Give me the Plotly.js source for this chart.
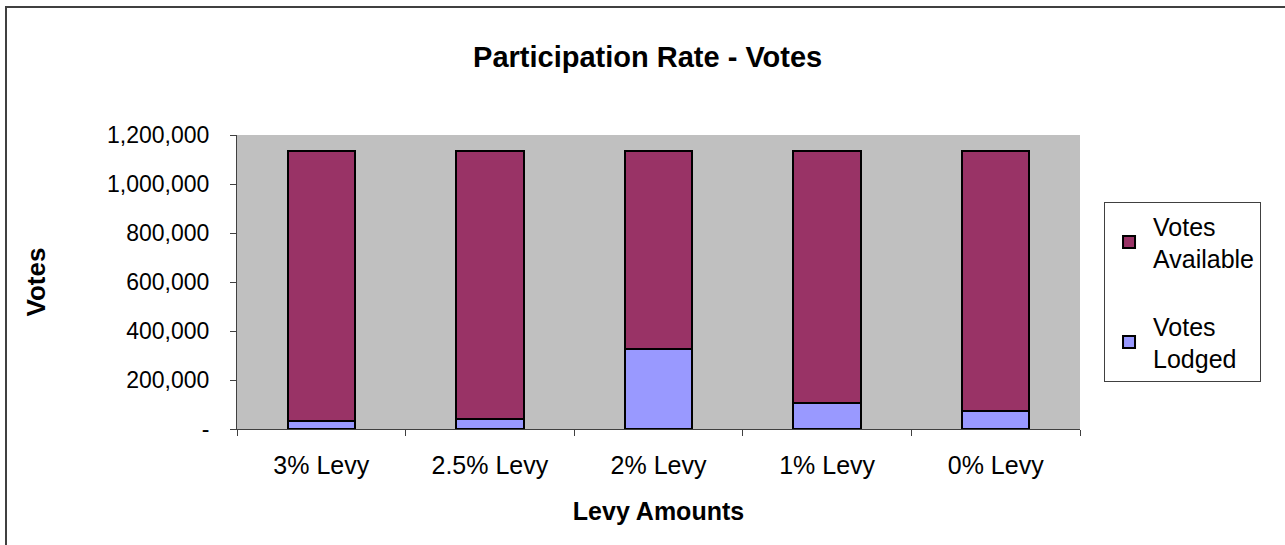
<!DOCTYPE html>
<html>
<head>
<meta charset="utf-8">
<script src="https://cdn.plot.ly/plotly-3.0.1.min.js"></script>
<style>
  html, body { margin: 0; padding: 0; background: #fff; }
  #wrap { position: relative; width: 1285px; height: 545px; overflow: hidden; }
  #chart { position: absolute; left: 0; top: 0; width: 1285px; height: 545px; }
  #frame { position: absolute; left: 5px; top: 6px; width: 1400px; height: 700px;
           border-left: 2px solid #404040; border-top: 2px solid #404040; pointer-events: none; }
</style>
</head>
<body>
<div id="wrap">
  <div id="chart"></div>
  <div id="frame"></div>
</div>
<script>
const categories = ["3% Levy", "2.5% Levy", "2% Levy", "1% Levy", "0% Levy"];
const votesLodged = [33000, 40000, 327000, 106000, 73000];
const votesAvailable = [1103000, 1096000, 809000, 1030000, 1063000];
const yTickVals = [0, 200000, 400000, 600000, 800000, 1000000, 1200000];
const yTickText = ["-", "200,000", "400,000", "600,000", "800,000", "1,000,000", "1,200,000"];

const FONT = "Liberation Sans, Arial, sans-serif";

const traces = [
  {
    type: "bar", name: "Votes<br>Lodged", x: categories, y: votesLodged,
    legendgroup: "lodged", legendrank: 2,
    marker: { color: "#9999FF", line: { color: "#000000", width: 2 } }
  },
  {
    type: "bar", name: "Votes<br>Available", x: categories, y: votesAvailable,
    legendgroup: "available", legendrank: 1,
    marker: { color: "#993366", line: { color: "#000000", width: 2 } }
  }
];

const layout = {
  width: 1285, height: 545,
  margin: { l: 237, r: 205, t: 135, b: 116, pad: 0 },
  paper_bgcolor: "#ffffff",
  plot_bgcolor: "#C0C0C0",
  barmode: "stack",
  bargap: 0.6,
  showlegend: true,
  font: { family: FONT, color: "#000000", size: 22 },
  title: {
    text: "Participation Rate - Votes",
    font: { family: FONT, size: 29, weight: "bold", color: "#000" },
    x: 0.504, xref: "container", xanchor: "center",
    y: 1 - 57 / 545, yref: "container", yanchor: "middle"
  },
  xaxis: {
    type: "category",
    showline: true, linecolor: "#404040", linewidth: 1,
    ticks: "outside", tickson: "boundaries", ticklen: 6, tickcolor: "#404040",
    tickfont: { family: FONT, size: 25 },
    ticklabelstandoff: 14,
    showgrid: false, zeroline: false,
    title: { text: "Levy Amounts", font: { family: FONT, size: 25, weight: "bold" }, standoff: 24 }
  },
  yaxis: {
    range: [0, 1200000],
    tickvals: yTickVals, ticktext: yTickText,
    showline: true, linecolor: "#404040", linewidth: 1,
    ticks: "outside", ticklen: 6, tickcolor: "#404040",
    tickfont: { family: FONT, size: 23 },
    ticklabelstandoff: 16,
    showgrid: false, zeroline: false,
    title: { text: "Votes", font: { family: FONT, size: 26, weight: "bold" }, standoff: 53 }
  },
  legend: {
    x: 1.0285, xanchor: "left", y: 0.772, yanchor: "top",
    bgcolor: "#ffffff", bordercolor: "#404040", borderwidth: 1,
    font: { family: FONT, size: 25 },
    traceorder: "grouped",
    tracegroupgap: 32,
    itemwidth: 38
  }
};

Plotly.newPlot("chart", traces, layout, { displayModeBar: false, staticPlot: true });
</script>
</body>
</html>
